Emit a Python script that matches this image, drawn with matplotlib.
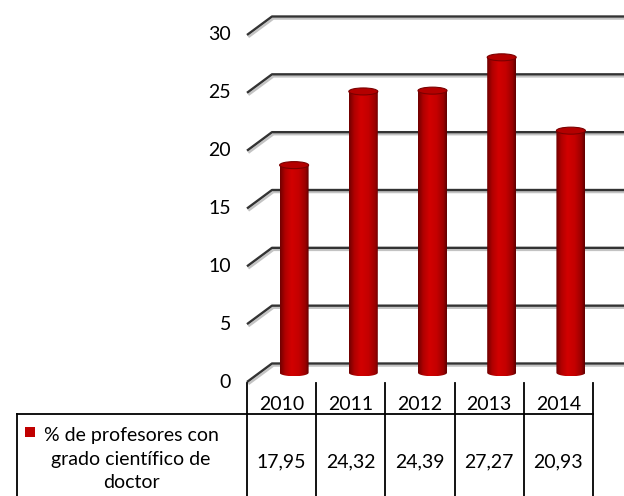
import numpy as np
import matplotlib.pyplot as plt
from matplotlib import transforms
from matplotlib.path import Path
from matplotlib.patches import Ellipse, PathPatch, Rectangle
from matplotlib.colors import LinearSegmentedColormap
import matplotlib.patheffects as pe

years = ['2010', '2011', '2012', '2013', '2014']
pct_doctor = [17.95, 24.32, 24.39, 27.27, 20.93]
y_ticks = [0, 5, 10, 15, 20, 25, 30]
series_name = '% de profesores con\ngrado científico de\ndoctor'

plt.rcParams['font.family'] = ['Lato', 'DejaVu Sans']
FS = 14

W, H = 624, 496
fig = plt.figure(figsize=(W / 100, H / 100), dpi=100)
# front edge of the floor: 247..593 px across, value 0 at 382 px, 30 at 35 px
ax = fig.add_axes([247 / W, (H - 382) / H, 346 / W, 347 / H])
n = len(years)
ax.set_xlim(-0.5, n - 0.5)
ax.set_ylim(0, 30)
ax.axis('off')

# oblique depth of the walls, in data units
px_x = 346 / n
px_y = 347 / 30
dx = 25 / px_x
dy = 18.5 / px_y

# gridlines on the side wall and back wall
grid_fx = [pe.SimpleLineShadow(offset=(1, -1.5), shadow_color='#888888', alpha=0.5), pe.Normal()]
lab_tr = transforms.offset_copy(ax.transData, fig, x=-16, y=0, units='dots')
for t in y_ticks:
    ax.plot([-0.5, -0.5 + dx, n - 0.5 + dx + 0.3], [t, t + dy, t + dy],
            color='#333333', lw=1.7, clip_on=False, solid_capstyle='butt',
            path_effects=grid_fx, zorder=1)
    ax.text(-0.5, t, str(t), transform=lab_tr, ha='right', va='center',
            fontsize=FS, color='black')

# cylinders
cyl = LinearSegmentedColormap.from_list('cyl', [
    (0.0, '#6e0000'), (0.18, '#b00000'), (0.4, '#d20000'),
    (0.65, '#c40000'), (0.88, '#9a0000'), (1.0, '#5e0000')])
bw = 29 / px_x
eh = 7 / px_y
base = dy / 2
for i, v in enumerate(pct_doctor):
    cx = i + dx / 2
    top = v + dy / 2
    x0, x1 = cx - bw / 2, cx + bw / 2
    th = np.linspace(np.pi, 2 * np.pi, 40)
    xs = np.concatenate([[x0, x0], cx + bw / 2 * np.cos(th), [x1, x0]])
    ys = np.concatenate([[top, base], base + eh / 2 * np.sin(th), [top, top]])
    body = PathPatch(Path(np.column_stack([xs, ys])), fc='none', ec='none')
    ax.add_patch(body)
    im = ax.imshow(np.linspace(0, 1, 256)[None, :], cmap=cyl, aspect='auto',
                   extent=[x0, x1, base - eh / 2, top], zorder=3)
    im.set_clip_path(body)
    ax.add_patch(Ellipse((cx, top), bw, eh, fc='#b40000', ec='#7a0000',
                         lw=0.8, zorder=4))
ax.set_xlim(-0.5, n - 0.5)
ax.set_ylim(0, 30)

# data table under the chart
tb = transforms.blended_transform_factory(ax.transData, fig.transFigure)
row_top = (H - 383) / H
row_mid = (H - 414) / H
for k in range(n + 1):
    ax.plot([k - 0.5, k - 0.5], [row_top, 0], transform=tb, color='black',
            lw=1.3, clip_on=False)
right = ax.get_position().x1
fig.add_artist(plt.Line2D([17 / W, right], [row_mid, row_mid], color='black', lw=1.3))
fig.add_artist(plt.Line2D([17 / W, 17 / W], [row_mid, 0], color='black', lw=1.3))

for i, (yr, v) in enumerate(zip(years, pct_doctor)):
    ax.text(i, (H - 404) / H, yr, transform=tb, ha='center', va='center',
            fontsize=FS, clip_on=False)
    ax.text(i, (H - 462) / H, f'{v:.2f}'.replace('.', ','), transform=tb,
            ha='center', va='center', fontsize=FS, clip_on=False)

fig.add_artist(Rectangle((25 / W, (H - 437) / H), 10 / W, 10 / H,
                         transform=fig.transFigure, fc='#c00000', ec='none'))
fig.text(131 / W, (H - 459) / H, series_name, ha='center', va='center',
         fontsize=FS, linespacing=1.45, multialignment='center')

fig.savefig('out.png', dpi=100)
